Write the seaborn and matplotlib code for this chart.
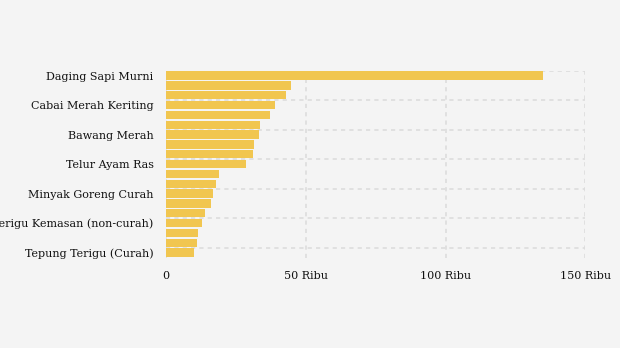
import matplotlib
matplotlib.use("Agg")
import matplotlib.pyplot as plt
import seaborn as sns
import pandas as pd

# Harga rata-rata komoditas pangan (Rupiah per kg/liter)
komoditas = [
    "Daging Sapi Murni",
    "Cabai Rawit Merah",
    "Cabai Merah Besar",
    "Cabai Merah Keriting",
    "Daging Ayam Ras",
    "Ikan Bandeng",
    "Bawang Merah",
    "Bawang Putih Honan",
    "Ikan Kembung",
    "Telur Ayam Ras",
    "Minyak Goreng Kemasan Sederhana",
    "Gula Konsumsi",
    "Minyak Goreng Curah",
    "Kedelai Biji Kering (Impor)",
    "Beras Premium",
    "Tepung Terigu Kemasan (non-curah)",
    "Beras Medium",
    "Garam Halus Beryodium",
    "Tepung Terigu (Curah)",
]
harga = [
    135000, 44700, 43000, 39000, 37200, 33700, 33300, 31500, 31100, 28600,
    19000, 17900, 16800, 16100, 14000, 12900, 11500, 11100, 10000,
]
label_tampil = [0, 3, 6, 9, 12, 15, 18]
xticks = [0, 50000, 100000, 150000]
xtick_labels = ["0", "50 Ribu", "100 Ribu", "150 Ribu"]

df = pd.DataFrame({"komoditas": komoditas, "harga": harga})

bg = "#f4f4f4"
sns.set_theme(style="white")
plt.rcParams["font.family"] = ["DejaVu Serif"]

fig = plt.figure(figsize=(6.2, 3.48), dpi=100, facecolor=bg)
ax = fig.add_axes([0.268, 0.260, 0.676, 0.537], facecolor=bg)

sns.barplot(data=df, x="harga", y="komoditas", orient="h", color="#f1c650",
            saturation=1, width=0.84, linewidth=0, ax=ax)

ax.set_xlim(0, 150000)
ax.set_ylim(18.5, -0.5)
ax.set_xlabel("")
ax.set_ylabel("")

ax.set_yticks(label_tampil)
ax.set_yticklabels([komoditas[i] for i in label_tampil], fontsize=8, color="#111111")
ax.set_yticks([i - 0.5 for i in label_tampil], minor=True)
ax.set_xticks(xticks)
ax.set_xticklabels(xtick_labels, fontsize=8, color="#111111")

ax.tick_params(axis="y", which="major", length=4.5, width=1, color="#dddddd", pad=4.5)
ax.tick_params(axis="y", which="minor", length=0)
ax.tick_params(axis="x", length=0, pad=10)

grid_kw = dict(color="#dcdcdc", linestyle=(0, (2.5, 2.5)), linewidth=1.2)
ax.grid(False)
ax.yaxis.grid(True, which="minor", **grid_kw)
ax.xaxis.grid(True, which="major", **grid_kw)
ax.set_axisbelow(True)
for s in ax.spines.values():
    s.set_visible(False)

fig.savefig("out.png", dpi=100, facecolor=bg)
